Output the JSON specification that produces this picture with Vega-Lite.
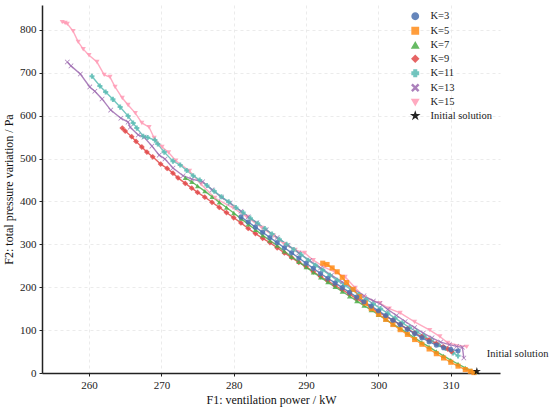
{
  "$schema": "https://vega.github.io/schema/vega-lite/v6.json",
  "width": 458,
  "height": 368,
  "autosize": "none",
  "padding": {"left": 42, "top": 5, "right": 50, "bottom": 37},
  "background": "white",
  "config": {
    "font": "Liberation Serif, DejaVu Serif, serif",
    "view": {"stroke": null},
    "axis": {
      "labelFont": "Liberation Serif, DejaVu Serif, serif",
      "titleFont": "Liberation Serif, DejaVu Serif, serif",
      "labelFontSize": 11,
      "titleFontSize": 12,
      "titleFontWeight": "normal",
      "labelColor": "#222",
      "titleColor": "#111",
      "domainColor": "#222",
      "domainWidth": 1.5,
      "tickColor": "#222",
      "tickSize": 3,
      "gridColor": "#e6e6e6",
      "gridDash": [3, 3],
      "gridWidth": 0.8
    },
    "legend": {
      "labelFont": "Liberation Serif, DejaVu Serif, serif",
      "labelFontSize": 10.5,
      "labelColor": "#222"
    }
  },
  "data": {
    "values": [
      {"K": "K=15", "F1": 256.3, "F2": 818}, {"K": "K=15", "F1": 256.7, "F2": 816}, {"K": "K=15", "F1": 257.0, "F2": 814},
      {"K": "K=15", "F1": 257.8, "F2": 797}, {"K": "K=15", "F1": 258.5, "F2": 772}, {"K": "K=15", "F1": 259.2, "F2": 755},
      {"K": "K=15", "F1": 260.0, "F2": 741}, {"K": "K=15", "F1": 261.1, "F2": 725}, {"K": "K=15", "F1": 262.1, "F2": 695},
      {"K": "K=15", "F1": 262.9, "F2": 690}, {"K": "K=15", "F1": 263.6, "F2": 667}, {"K": "K=15", "F1": 264.6, "F2": 641},
      {"K": "K=15", "F1": 265.4, "F2": 625}, {"K": "K=15", "F1": 266.4, "F2": 606}, {"K": "K=15", "F1": 267.3, "F2": 583},
      {"K": "K=15", "F1": 268.3, "F2": 573}, {"K": "K=15", "F1": 269.0, "F2": 548}, {"K": "K=15", "F1": 270.1, "F2": 527},
      {"K": "K=15", "F1": 271.0, "F2": 514}, {"K": "K=15", "F1": 272.0, "F2": 495}, {"K": "K=15", "F1": 273.9, "F2": 471},
      {"K": "K=15", "F1": 275.5, "F2": 440}, {"K": "K=15", "F1": 277.4, "F2": 408}, {"K": "K=15", "F1": 279.9, "F2": 385},
      {"K": "K=15", "F1": 281.8, "F2": 364}, {"K": "K=15", "F1": 283.9, "F2": 338}, {"K": "K=15", "F1": 285.5, "F2": 320},
      {"K": "K=15", "F1": 287.0, "F2": 300}, {"K": "K=15", "F1": 288.5, "F2": 287}, {"K": "K=15", "F1": 289.8, "F2": 280},
      {"K": "K=15", "F1": 291.0, "F2": 263}, {"K": "K=15", "F1": 292.5, "F2": 247}, {"K": "K=15", "F1": 294.0, "F2": 235},
      {"K": "K=15", "F1": 295.4, "F2": 224}, {"K": "K=15", "F1": 296.8, "F2": 198}, {"K": "K=15", "F1": 298.1, "F2": 177},
      {"K": "K=15", "F1": 300.2, "F2": 163}, {"K": "K=15", "F1": 301.5, "F2": 150}, {"K": "K=15", "F1": 303.0, "F2": 140},
      {"K": "K=15", "F1": 305.0, "F2": 119}, {"K": "K=15", "F1": 307.1, "F2": 100}, {"K": "K=15", "F1": 308.5, "F2": 85},
      {"K": "K=15", "F1": 309.6, "F2": 70}, {"K": "K=15", "F1": 312.2, "F2": 61},

      {"K": "K=13", "F1": 257.0, "F2": 725}, {"K": "K=13", "F1": 257.5, "F2": 716}, {"K": "K=13", "F1": 258.8, "F2": 697},
      {"K": "K=13", "F1": 260.1, "F2": 667}, {"K": "K=13", "F1": 260.8, "F2": 657}, {"K": "K=13", "F1": 261.8, "F2": 639},
      {"K": "K=13", "F1": 263.0, "F2": 613}, {"K": "K=13", "F1": 264.4, "F2": 594}, {"K": "K=13", "F1": 265.4, "F2": 585},
      {"K": "K=13", "F1": 265.7, "F2": 573}, {"K": "K=13", "F1": 266.8, "F2": 555}, {"K": "K=13", "F1": 267.6, "F2": 550},
      {"K": "K=13", "F1": 268.7, "F2": 529}, {"K": "K=13", "F1": 269.7, "F2": 508}, {"K": "K=13", "F1": 270.5, "F2": 499},
      {"K": "K=13", "F1": 271.6, "F2": 478}, {"K": "K=13", "F1": 273.0, "F2": 460}, {"K": "K=13", "F1": 274.2, "F2": 452},
      {"K": "K=13", "F1": 275.7, "F2": 446}, {"K": "K=13", "F1": 277.0, "F2": 427}, {"K": "K=13", "F1": 278.3, "F2": 410},
      {"K": "K=13", "F1": 279.5, "F2": 396}, {"K": "K=13", "F1": 281.0, "F2": 377}, {"K": "K=13", "F1": 282.0, "F2": 364},
      {"K": "K=13", "F1": 283.2, "F2": 350}, {"K": "K=13", "F1": 284.5, "F2": 334}, {"K": "K=13", "F1": 286.0, "F2": 316},
      {"K": "K=13", "F1": 287.5, "F2": 298}, {"K": "K=13", "F1": 289.0, "F2": 280}, {"K": "K=13", "F1": 290.5, "F2": 262},
      {"K": "K=13", "F1": 292.0, "F2": 245}, {"K": "K=13", "F1": 293.5, "F2": 228}, {"K": "K=13", "F1": 295.0, "F2": 212},
      {"K": "K=13", "F1": 296.5, "F2": 196}, {"K": "K=13", "F1": 298.0, "F2": 180}, {"K": "K=13", "F1": 299.3, "F2": 168},
      {"K": "K=13", "F1": 300.2, "F2": 162}, {"K": "K=13", "F1": 301.3, "F2": 148}, {"K": "K=13", "F1": 302.5, "F2": 134},
      {"K": "K=13", "F1": 303.7, "F2": 120}, {"K": "K=13", "F1": 305.0, "F2": 106}, {"K": "K=13", "F1": 306.2, "F2": 93},
      {"K": "K=13", "F1": 307.4, "F2": 82}, {"K": "K=13", "F1": 308.6, "F2": 72}, {"K": "K=13", "F1": 309.8, "F2": 66},
      {"K": "K=13", "F1": 310.8, "F2": 62}, {"K": "K=13", "F1": 311.6, "F2": 60}, {"K": "K=13", "F1": 311.8, "F2": 35},

      {"K": "K=11", "F1": 260.4, "F2": 692}, {"K": "K=11", "F1": 261.5, "F2": 669}, {"K": "K=11", "F1": 262.3, "F2": 655},
      {"K": "K=11", "F1": 263.3, "F2": 638}, {"K": "K=11", "F1": 264.3, "F2": 620}, {"K": "K=11", "F1": 265.4, "F2": 599},
      {"K": "K=11", "F1": 266.1, "F2": 583}, {"K": "K=11", "F1": 266.6, "F2": 571}, {"K": "K=11", "F1": 267.5, "F2": 552},
      {"K": "K=11", "F1": 268.1, "F2": 549}, {"K": "K=11", "F1": 269.1, "F2": 543}, {"K": "K=11", "F1": 269.5, "F2": 534},
      {"K": "K=11", "F1": 270.4, "F2": 515}, {"K": "K=11", "F1": 271.6, "F2": 494}, {"K": "K=11", "F1": 272.6, "F2": 485},
      {"K": "K=11", "F1": 273.5, "F2": 472}, {"K": "K=11", "F1": 274.4, "F2": 460}, {"K": "K=11", "F1": 275.3, "F2": 450},
      {"K": "K=11", "F1": 276.3, "F2": 437}, {"K": "K=11", "F1": 277.3, "F2": 424}, {"K": "K=11", "F1": 278.3, "F2": 411},
      {"K": "K=11", "F1": 279.3, "F2": 399}, {"K": "K=11", "F1": 280.3, "F2": 386}, {"K": "K=11", "F1": 281.3, "F2": 374},
      {"K": "K=11", "F1": 282.3, "F2": 361}, {"K": "K=11", "F1": 283.3, "F2": 349}, {"K": "K=11", "F1": 284.3, "F2": 337},
      {"K": "K=11", "F1": 285.3, "F2": 324}, {"K": "K=11", "F1": 286.3, "F2": 312}, {"K": "K=11", "F1": 287.3, "F2": 300},
      {"K": "K=11", "F1": 288.3, "F2": 288}, {"K": "K=11", "F1": 289.3, "F2": 276}, {"K": "K=11", "F1": 290.3, "F2": 263},
      {"K": "K=11", "F1": 291.3, "F2": 251}, {"K": "K=11", "F1": 292.3, "F2": 240}, {"K": "K=11", "F1": 293.3, "F2": 228},
      {"K": "K=11", "F1": 294.3, "F2": 216}, {"K": "K=11", "F1": 295.3, "F2": 205}, {"K": "K=11", "F1": 296.3, "F2": 194},
      {"K": "K=11", "F1": 297.3, "F2": 183}, {"K": "K=11", "F1": 298.3, "F2": 172}, {"K": "K=11", "F1": 299.3, "F2": 161},
      {"K": "K=11", "F1": 300.3, "F2": 150}, {"K": "K=11", "F1": 301.3, "F2": 139}, {"K": "K=11", "F1": 302.3, "F2": 128},
      {"K": "K=11", "F1": 303.3, "F2": 117}, {"K": "K=11", "F1": 304.3, "F2": 106}, {"K": "K=11", "F1": 305.3, "F2": 96},
      {"K": "K=11", "F1": 306.3, "F2": 86}, {"K": "K=11", "F1": 307.3, "F2": 76}, {"K": "K=11", "F1": 308.3, "F2": 66},
      {"K": "K=11", "F1": 309.3, "F2": 57}, {"K": "K=11", "F1": 310.3, "F2": 47}, {"K": "K=11", "F1": 311.0, "F2": 40},

      {"K": "K=9", "F1": 264.6, "F2": 571}, {"K": "K=9", "F1": 265.0, "F2": 564}, {"K": "K=9", "F1": 265.9, "F2": 551},
      {"K": "K=9", "F1": 266.5, "F2": 540}, {"K": "K=9", "F1": 267.3, "F2": 527}, {"K": "K=9", "F1": 268.0, "F2": 515},
      {"K": "K=9", "F1": 268.8, "F2": 504}, {"K": "K=9", "F1": 269.9, "F2": 487}, {"K": "K=9", "F1": 270.8, "F2": 477},
      {"K": "K=9", "F1": 271.6, "F2": 466}, {"K": "K=9", "F1": 272.3, "F2": 455}, {"K": "K=9", "F1": 273.3, "F2": 442},
      {"K": "K=9", "F1": 274.2, "F2": 431}, {"K": "K=9", "F1": 275.0, "F2": 421}, {"K": "K=9", "F1": 276.0, "F2": 410},
      {"K": "K=9", "F1": 277.0, "F2": 398}, {"K": "K=9", "F1": 278.0, "F2": 386}, {"K": "K=9", "F1": 279.0, "F2": 374},
      {"K": "K=9", "F1": 280.0, "F2": 362}, {"K": "K=9", "F1": 281.0, "F2": 350}, {"K": "K=9", "F1": 282.0, "F2": 337},
      {"K": "K=9", "F1": 283.0, "F2": 325}, {"K": "K=9", "F1": 284.0, "F2": 314}, {"K": "K=9", "F1": 285.0, "F2": 304},
      {"K": "K=9", "F1": 286.0, "F2": 292}, {"K": "K=9", "F1": 287.0, "F2": 280}, {"K": "K=9", "F1": 288.0, "F2": 269},
      {"K": "K=9", "F1": 289.0, "F2": 258}, {"K": "K=9", "F1": 290.0, "F2": 248}, {"K": "K=9", "F1": 291.0, "F2": 236},
      {"K": "K=9", "F1": 292.0, "F2": 225}, {"K": "K=9", "F1": 293.0, "F2": 215}, {"K": "K=9", "F1": 294.0, "F2": 204},
      {"K": "K=9", "F1": 295.0, "F2": 194}, {"K": "K=9", "F1": 296.0, "F2": 184}, {"K": "K=9", "F1": 297.0, "F2": 173},
      {"K": "K=9", "F1": 298.0, "F2": 163}, {"K": "K=9", "F1": 299.0, "F2": 152}, {"K": "K=9", "F1": 300.0, "F2": 142},
      {"K": "K=9", "F1": 301.0, "F2": 132}, {"K": "K=9", "F1": 302.0, "F2": 123}, {"K": "K=9", "F1": 303.0, "F2": 113},
      {"K": "K=9", "F1": 304.0, "F2": 103}, {"K": "K=9", "F1": 305.0, "F2": 93}, {"K": "K=9", "F1": 306.0, "F2": 85},
      {"K": "K=9", "F1": 307.0, "F2": 77}, {"K": "K=9", "F1": 308.0, "F2": 69}, {"K": "K=9", "F1": 309.0, "F2": 61},
      {"K": "K=9", "F1": 309.6, "F2": 56}, {"K": "K=9", "F1": 310.1, "F2": 50},

      {"K": "K=7", "F1": 273.3, "F2": 455}, {"K": "K=7", "F1": 274.2, "F2": 446}, {"K": "K=7", "F1": 275.0, "F2": 436},
      {"K": "K=7", "F1": 276.0, "F2": 424}, {"K": "K=7", "F1": 277.0, "F2": 411}, {"K": "K=7", "F1": 278.0, "F2": 398},
      {"K": "K=7", "F1": 279.0, "F2": 386}, {"K": "K=7", "F1": 280.0, "F2": 373}, {"K": "K=7", "F1": 281.0, "F2": 360},
      {"K": "K=7", "F1": 282.0, "F2": 347}, {"K": "K=7", "F1": 283.0, "F2": 334}, {"K": "K=7", "F1": 284.0, "F2": 321},
      {"K": "K=7", "F1": 285.0, "F2": 309}, {"K": "K=7", "F1": 286.0, "F2": 297}, {"K": "K=7", "F1": 287.0, "F2": 284},
      {"K": "K=7", "F1": 288.0, "F2": 271}, {"K": "K=7", "F1": 289.0, "F2": 259}, {"K": "K=7", "F1": 290.0, "F2": 247},
      {"K": "K=7", "F1": 291.0, "F2": 235}, {"K": "K=7", "F1": 292.0, "F2": 223}, {"K": "K=7", "F1": 293.0, "F2": 212},
      {"K": "K=7", "F1": 294.0, "F2": 201}, {"K": "K=7", "F1": 295.0, "F2": 190}, {"K": "K=7", "F1": 296.0, "F2": 179},
      {"K": "K=7", "F1": 297.0, "F2": 168}, {"K": "K=7", "F1": 298.0, "F2": 157}, {"K": "K=7", "F1": 299.0, "F2": 147},
      {"K": "K=7", "F1": 300.0, "F2": 136}, {"K": "K=7", "F1": 301.0, "F2": 125}, {"K": "K=7", "F1": 302.0, "F2": 114},
      {"K": "K=7", "F1": 303.0, "F2": 104}, {"K": "K=7", "F1": 304.0, "F2": 93}, {"K": "K=7", "F1": 305.0, "F2": 82},
      {"K": "K=7", "F1": 306.0, "F2": 71}, {"K": "K=7", "F1": 307.0, "F2": 61}, {"K": "K=7", "F1": 308.0, "F2": 50},
      {"K": "K=7", "F1": 309.0, "F2": 40}, {"K": "K=7", "F1": 310.0, "F2": 30}, {"K": "K=7", "F1": 311.0, "F2": 21},
      {"K": "K=7", "F1": 312.0, "F2": 12}, {"K": "K=7", "F1": 312.8, "F2": 6}, {"K": "K=7", "F1": 313.3, "F2": 2},

      {"K": "K=5", "F1": 292.3, "F2": 256}, {"K": "K=5", "F1": 292.9, "F2": 253}, {"K": "K=5", "F1": 293.6, "F2": 245},
      {"K": "K=5", "F1": 294.3, "F2": 236}, {"K": "K=5", "F1": 295.0, "F2": 223}, {"K": "K=5", "F1": 295.6, "F2": 211},
      {"K": "K=5", "F1": 296.5, "F2": 195}, {"K": "K=5", "F1": 297.4, "F2": 178}, {"K": "K=5", "F1": 298.2, "F2": 163},
      {"K": "K=5", "F1": 299.0, "F2": 150}, {"K": "K=5", "F1": 300.0, "F2": 137}, {"K": "K=5", "F1": 301.0, "F2": 125},
      {"K": "K=5", "F1": 302.0, "F2": 113}, {"K": "K=5", "F1": 303.0, "F2": 101}, {"K": "K=5", "F1": 304.0, "F2": 90},
      {"K": "K=5", "F1": 305.0, "F2": 78}, {"K": "K=5", "F1": 306.0, "F2": 67}, {"K": "K=5", "F1": 307.0, "F2": 56},
      {"K": "K=5", "F1": 308.0, "F2": 45}, {"K": "K=5", "F1": 309.0, "F2": 35}, {"K": "K=5", "F1": 310.0, "F2": 25},
      {"K": "K=5", "F1": 311.0, "F2": 16}, {"K": "K=5", "F1": 312.0, "F2": 8}, {"K": "K=5", "F1": 312.7, "F2": 4},
      {"K": "K=5", "F1": 313.2, "F2": 1},

      {"K": "K=3", "F1": 281.0, "F2": 364}, {"K": "K=3", "F1": 282.0, "F2": 352}, {"K": "K=3", "F1": 283.0, "F2": 340},
      {"K": "K=3", "F1": 284.0, "F2": 328}, {"K": "K=3", "F1": 285.0, "F2": 316}, {"K": "K=3", "F1": 286.0, "F2": 304},
      {"K": "K=3", "F1": 287.0, "F2": 292}, {"K": "K=3", "F1": 288.0, "F2": 280}, {"K": "K=3", "F1": 289.0, "F2": 268},
      {"K": "K=3", "F1": 290.0, "F2": 256}, {"K": "K=3", "F1": 291.0, "F2": 244}, {"K": "K=3", "F1": 292.0, "F2": 232},
      {"K": "K=3", "F1": 293.0, "F2": 221}, {"K": "K=3", "F1": 294.0, "F2": 210}, {"K": "K=3", "F1": 295.0, "F2": 199},
      {"K": "K=3", "F1": 296.0, "F2": 188}, {"K": "K=3", "F1": 297.0, "F2": 177}, {"K": "K=3", "F1": 298.0, "F2": 166},
      {"K": "K=3", "F1": 299.0, "F2": 156}, {"K": "K=3", "F1": 300.0, "F2": 145}, {"K": "K=3", "F1": 301.0, "F2": 134},
      {"K": "K=3", "F1": 302.0, "F2": 123}, {"K": "K=3", "F1": 303.0, "F2": 113}, {"K": "K=3", "F1": 304.0, "F2": 102},
      {"K": "K=3", "F1": 305.0, "F2": 92}, {"K": "K=3", "F1": 306.0, "F2": 82}, {"K": "K=3", "F1": 307.0, "F2": 73},
      {"K": "K=3", "F1": 308.0, "F2": 65}, {"K": "K=3", "F1": 309.0, "F2": 59}, {"K": "K=3", "F1": 310.0, "F2": 55},
      {"K": "K=3", "F1": 311.0, "F2": 52},

      {"K": "Initial solution", "F1": 313.6, "F2": 4, "label": "Initial solution"}
    ]
  },
  "layer": [
    {
      "transform": [{"filter": "datum.K !== 'Initial solution'"}],
      "mark": {"type": "line", "strokeWidth": 1.4, "opacity": 0.85},
      "encoding": {
        "x": {"field": "F1", "type": "quantitative"},
        "y": {"field": "F2", "type": "quantitative"},
        "color": {"field": "K", "type": "nominal"},
        "detail": {"field": "K"}
      }
    },
    {
      "mark": {"type": "point", "filled": true, "opacity": 0.85},
      "encoding": {
        "x": {
          "field": "F1",
          "type": "quantitative",
          "title": "F1: ventilation power / kW",
          "scale": {"domain": [253.5, 316.8], "nice": false, "zero": false},
          "axis": {"values": [260, 270, 280, 290, 300, 310], "titlePadding": 4, "labelPadding": 3}
        },
        "y": {
          "field": "F2",
          "type": "quantitative",
          "title": "F2: total pressure variation / Pa",
          "scale": {"domain": [0, 858], "nice": false},
          "axis": {"values": [0, 100, 200, 300, 400, 500, 600, 700, 800], "titlePadding": 4, "labelPadding": 3}
        },
        "color": {
          "field": "K",
          "type": "nominal",
          "title": null,
          "sort": ["K=3", "K=5", "K=7", "K=9", "K=11", "K=13", "K=15", "Initial solution"],
          "scale": {
            "domain": ["K=3", "K=5", "K=7", "K=9", "K=11", "K=13", "K=15", "Initial solution"],
            "range": ["#4c72b0", "#ff8c1a", "#4daf4a", "#e24a4a", "#5bbcb4", "#9d6bb0", "#ff9cb6", "#000000"]
          },
          "legend": {
            "orient": "none",
            "legendX": 368,
            "legendY": 6,
            "rowPadding": 1.5,
            "symbolSize": 40,
            "labelOffset": 10,
            "symbolOpacity": 1
          }
        },
        "shape": {
          "field": "K",
          "type": "nominal",
          "title": null,
          "sort": ["K=3", "K=5", "K=7", "K=9", "K=11", "K=13", "K=15", "Initial solution"],
          "scale": {
            "domain": ["K=3", "K=5", "K=7", "K=9", "K=11", "K=13", "K=15", "Initial solution"],
            "range": [
              "circle",
              "square",
              "triangle-up",
              "diamond",
              "cross",
              "M-0.8,-1L0,-0.2L0.8,-1L1,-0.8L0.2,0L1,0.8L0.8,1L0,0.2L-0.8,1L-1,0.8L-0.2,0L-1,-0.8Z",
              "triangle-down",
              "M0,-1L0.2245,-0.309L0.951,-0.309L0.363,0.118L0.588,0.809L0,0.382L-0.588,0.809L-0.363,0.118L-0.951,-0.309L-0.2245,-0.309Z"
            ]
          },
          "legend": {
            "orient": "none",
            "legendX": 368,
            "legendY": 6,
            "rowPadding": 1.5,
            "symbolSize": 40,
            "labelOffset": 10,
            "symbolOpacity": 1
          }
        },
        "size": {
          "condition": [
            {"test": "datum.K === 'Initial solution'", "value": 75},
            {"test": "datum.K === 'K=9'", "value": 34}
          ],
          "value": 26
        }
      }
    },
    {
      "transform": [{"filter": "datum.label"}],
      "mark": {"type": "text", "align": "left", "baseline": "middle", "dx": 10, "dy": -17, "fontSize": 10.5, "font": "Liberation Serif, DejaVu Serif, serif", "color": "#222"},
      "encoding": {
        "x": {"field": "F1", "type": "quantitative"},
        "y": {"field": "F2", "type": "quantitative"},
        "text": {"field": "label"}
      }
    }
  ]
}
